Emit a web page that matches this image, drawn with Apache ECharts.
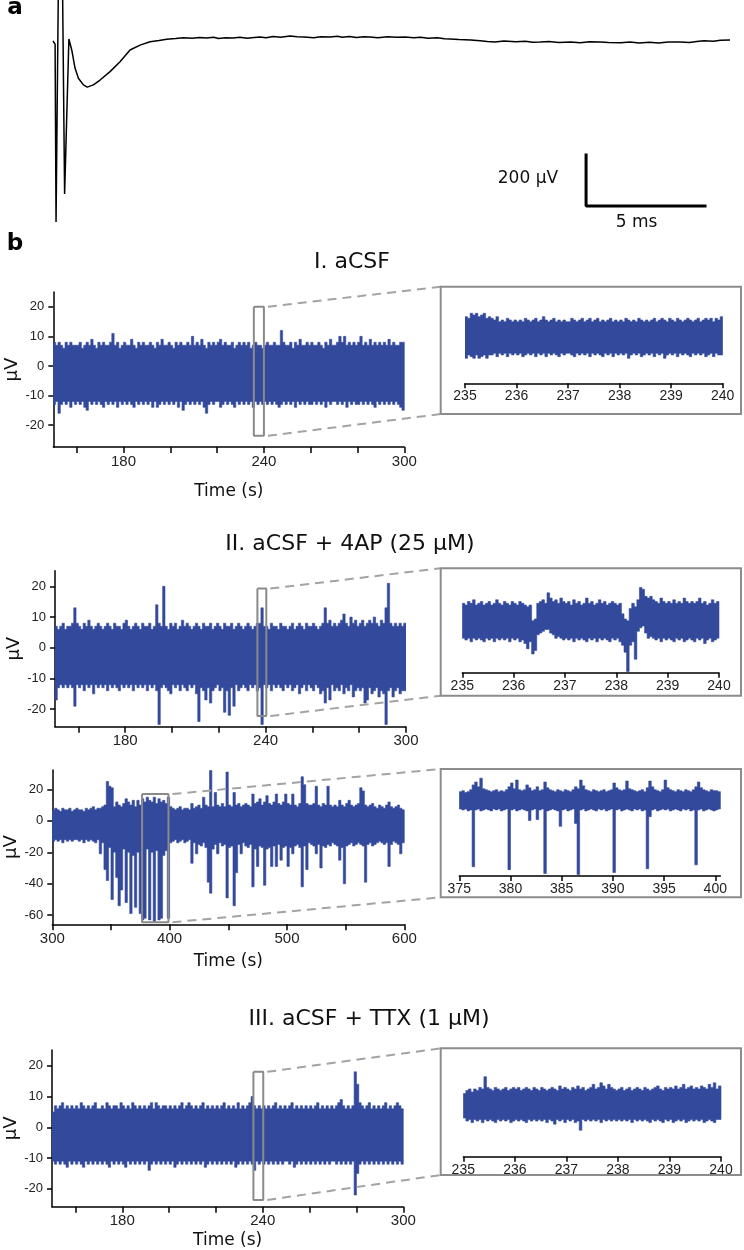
<!DOCTYPE html>
<html><head><meta charset="utf-8">
<script src="https://cdn.jsdelivr.net/npm/echarts@6/dist/echarts.min.js"></script>
<style>html,body{margin:0;padding:0;background:#fff}#c{width:744px;height:1250px}</style>
</head><body><div id="c"></div>
<script>
// ---------------- DATA ----------------
// Panel a: single averaged waveform (time ms, amplitude µV)
const aT = [0.04,0.13,0.17,0.27,0.44,0.53,0.71,0.83,0.97,1.11,1.32,1.48,1.74,2.02,2.44,2.86,3.28,3.70,4.12,4.50,4.82,5.20,5.52,5.90,6.20,6.50,6.80,7.00,7.30,7.61,7.90,8.20,8.50,8.74,9.00,9.30,9.60,10.01,10.30,10.60,11.00,11.30,11.69,12.00,12.20,12.50,12.80,13.10,13.37,13.70,14.10,14.50,14.84,15.20,15.50,15.80,16.20,16.50,16.73,17.10,17.60,18.00,18.30,18.62,19.00,19.50,19.90,20.20,20.52,20.90,21.30,21.80,22.20,22.60,23.04,23.40,23.90,24.30,24.68,25.10,25.50,25.90,26.40,26.80,27.10,27.40,27.80,28.10,28.50];
const aV = [-4,-16,-714,235,235,-604,4,-39,-111,-150,-176,-185,-176,-157,-124,-85,-39,-20,-7,-2,3,6,9,7,10,8,11,6,9,8,11,7,10,12,9,14,11,16,13,12,9,13,12,15,11,14,10,13,12,9,13,11,12,9,11,7,9,5,4,2,0,-3,-6,-8,-4,-7,-5,-9,-8,-6,-10,-8,-11,-7,-8,-10,-11,-8,-12,-9,-12,-8,-8,-10,-6,-3,-5,-1,0];
const scaleBarOrigin = [22.45, -451];   // ms, µV
const scaleBarV = 200;                  // µV
const scaleBarT = 5;                    // ms

// Panel titles
const titles = ['I. aCSF', 'II. aCSF + 4AP (25 µM)', 'III. aCSF + TTX (1 µM)'];

// Tick values
const mainTicks = [160,180,200,220,240,260,280,300];
const mainLabels = [180,240,300];
const longTicks = [300,350,400,450,500,550,600];
const longLabels = [300,400,500,600];
const yTicks = [-20,-10,0,10,20];
const yTicksLong = [-60,-40,-20,0,20];
const insetTicks = [235,236,237,238,239,240];
const insetTicksLong = [375,380,385,390,395,400];

// I. aCSF, 150–300 s, 1 s bins: upper / lower envelope (µV)
const I_t0 = 150, I_dt = 1;
const I_hi = [8,7,8,7,6,8,7,8,7,7, 7,8,6,7,8,7,9,7,6,8, 7,8,7,7,8,11,7,8,6,7, 8,7,7,9,7,6,8,7,8,7, 7,8,7,6,8,7,9,7,7,8,
  7,6,8,7,8,7,7,8,7,10, 7,8,7,9,7,6,8,7,8,7, 8,9,7,8,7,7,8,6,7,8, 7,8,7,8,6,7,8,7,7,6, 7,8,7,7,8,7,7,12,8,7,
  7,8,6,8,7,9,7,7,8,7, 8,7,7,8,7,6,8,7,9,7, 7,8,10,8,10,7,8,7,8,7, 8,10,7,8,7,9,7,8,7,8, 7,8,7,9,7,8,7,7,8,8];
const I_lo = [-13,-12,-16,-13,-12,-13,-12,-14,-12,-13, -12,-13,-12,-14,-15,-12,-13,-12,-13,-12, -13,-14,-12,-13,-12,-13,-12,-14,-12,-13,
  -12,-13,-12,-13,-14,-12,-13,-12,-13,-12, -13,-12,-14,-12,-14,-13,-12,-13,-12,-13, -12,-13,-12,-14,-12,-15,-13,-12,-13,-12,
  -13,-12,-13,-12,-14,-16,-13,-12,-13,-12, -12,-14,-13,-12,-13,-12,-13,-14,-12,-13, -12,-13,-12,-13,-12,-14,-12,-13,-12,-13,
  -12,-13,-12,-13,-12,-13,-14,-13,-12,-13, -12,-13,-12,-14,-12,-13,-12,-13,-12,-13, -13,-12,-13,-12,-13,-12,-14,-12,-13,-12,
  -12,-13,-12,-13,-12,-14,-12,-13,-12,-13, -13,-12,-13,-12,-13,-12,-13,-14,-12,-13, -12,-13,-12,-13,-12,-13,-12,-13,-14,-15];
// I inset, 235–240 s, 0.05 s bins
const Iz_t0 = 235, Iz_dt = 0.05;
const Iz_hi = [10,9,12,11,12,10,11,12,9,10, 9,8,10,7,8,7,9,8,7,8, 7,8,7,9,8,7,8,9,7,8, 10,8,7,8,9,7,8,7,8,7, 7,9,8,7,8,9,7,8,9,7,
  8,9,7,8,7,8,9,7,8,7, 8,7,9,8,7,8,7,9,8,7, 8,7,8,9,7,8,9,8,7,9, 8,7,9,8,7,8,9,8,7,8, 9,7,8,9,8,9,7,9,8,10];
const Iz_lo = [-15,-13,-14,-15,-13,-15,-14,-13,-15,-13, -13,-12,-14,-12,-13,-12,-14,-12,-13,-12, -13,-12,-14,-13,-12,-13,-12,-14,-12,-13,
  -12,-14,-12,-13,-12,-13,-14,-12,-13,-12, -12,-13,-14,-12,-13,-12,-13,-12,-14,-12, -13,-12,-13,-14,-12,-13,-12,-14,-12,-13,
  -12,-13,-12,-15,-13,-12,-13,-12,-14,-13, -12,-13,-12,-14,-12,-13,-12,-15,-13,-12, -13,-12,-14,-12,-13,-12,-13,-14,-12,-13,
  -12,-13,-12,-14,-13,-12,-14,-12,-13,-13];

// II. aCSF + 4AP, 150–300 s, 1 s bins
const IIa_t0 = 150, IIa_dt = 1;
const IIa_hi = [7,6,7,8,6,7,7,8,13,8, 7,6,8,7,9,7,6,7,8,7, 6,7,8,7,6,8,7,7,6,8, 9,7,6,7,8,7,6,8,7,7, 8,6,7,14,8,7,20,7,6,8,
  7,8,6,7,9,7,8,7,6,7, 8,7,6,8,7,7,8,6,7,8, 7,6,8,7,7,8,6,7,8,7, 6,7,8,7,6,7,8,8,13,7, 7,6,8,7,7,6,8,7,7,6,
  7,8,6,7,8,7,6,8,7,7, 8,7,6,7,8,13,8,9,7,8, 7,8,9,11,8,7,10,8,9,7, 8,9,7,8,9,8,10,8,7,9, 8,13,21,8,7,8,7,8,7,8];
const IIa_lo = [-17,-13,-12,-13,-12,-13,-12,-13,-19,-12, -13,-12,-14,-12,-13,-12,-15,-12,-13,-12, -13,-12,-14,-12,-13,-12,-13,-14,-12,-13,
  -12,-13,-12,-14,-12,-13,-12,-13,-12,-14, -12,-13,-12,-14,-25,-13,-12,-13,-14,-15, -12,-13,-12,-14,-12,-13,-14,-12,-13,-12,
  -15,-24,-13,-14,-17,-13,-18,-14,-13,-12, -14,-13,-21,-14,-22,-13,-19,-12,-14,-13, -12,-13,-14,-12,-13,-12,-14,-13,-25,-12,
  -13,-12,-14,-12,-13,-12,-13,-14,-12,-13, -12,-14,-13,-12,-15,-13,-12,-14,-12,-13, -14,-12,-13,-15,-14,-18,-13,-17,-12,-14,
  -13,-14,-12,-15,-13,-14,-12,-16,-14,-13, -14,-13,-18,-17,-13,-15,-14,-13,-16,-14, -15,-25,-14,-13,-16,-14,-13,-15,-14,-14];
// II inset (first), 235–240 s, 0.05 s bins
const IIaz_t0 = 235, IIaz_dt = 0.05;
const IIaz_hi = [8,7,9,8,10,7,8,9,7,8, 9,7,8,10,8,7,9,8,7,9, 8,7,9,8,7,6,7,-2,-1,8, 9,10,8,14,11,9,10,8,11,9, 8,9,7,10,8,9,7,8,11,8,
  9,7,8,10,8,9,7,8,9,8, 7,8,2,-1,-2,5,8,6,10,17, 16,12,11,12,10,9,8,11,9,8, 9,8,10,8,9,8,11,9,8,9, 8,9,11,8,9,7,8,10,8,9];
const IIaz_lo = [-12,-13,-12,-14,-12,-13,-12,-13,-14,-12, -13,-12,-14,-12,-13,-12,-13,-12,-14,-12, -13,-12,-14,-13,-15,-18,-14,-21,-19,-10,
  -9,-8,-7,-7,-9,-10,-12,-11,-12,-13, -12,-13,-12,-14,-12,-13,-12,-13,-14,-12, -13,-12,-14,-12,-13,-12,-13,-14,-12,-13,
  -12,-14,-16,-20,-31,-16,-14,-24,-8,-6, -5,-9,-12,-11,-12,-13,-12,-14,-12,-13, -12,-13,-14,-12,-13,-12,-14,-13,-12,-13,
  -14,-12,-13,-12,-15,-13,-12,-14,-13,-12];

// II. aCSF + 4AP, 300–600 s, 2 s bins
const IIb_t0 = 300, IIb_dt = 2;
const IIb_hi = [7,8,7,6,8,7,7,8,6,7, 8,7,7,6,8,7,8,9,7,8, 8,9,10,25,22,21,9,12,10,9, 11,14,12,10,13,9,13,10,14,12,
  15,13,12,15,11,14,12,13,11,15, 9,8,7,8,9,7,8,8,7,11, 8,9,10,8,15,10,9,32,9,18, 10,9,11,9,31,10,9,18,10,11,
  9,10,11,10,9,17,11,12,14,10, 12,16,11,10,12,17,11,10,12,17, 11,10,17,10,9,11,28,23,11,10, 10,11,22,10,9,11,10,22,10,9,
  10,9,13,10,9,11,13,10,9,10, 11,21,19,10,9,10,11,9,8,10, 9,8,10,12,9,8,9,10,8,7];
const IIb_lo = [-13,-12,-13,-12,-14,-12,-13,-12,-13,-12, -12,-13,-12,-14,-12,-13,-12,-13,-14,-12,
  -21,-14,-31,-38,-17,-50,-20,-36,-54,-44, -18,-52,-20,-59,-22,-55,-20,-59,-63,-62, -18,-63,-20,-64,-19,-63,-62,-22,-19,-62,
  -14,-13,-12,-14,-13,-12,-14,-13,-12,-27, -14,-21,-15,-16,-14,-17,-39,-46,-18,-15, -21,-14,-16,-15,-49,-17,-16,-54,-33,-15,
  -21,-14,-16,-17,-15,-42,-18,-29,-16,-17, -41,-18,-17,-29,-16,-29,-15,-25,-17,-16, -29,-17,-21,-16,-15,-17,-42,-16,-31,-14,
  -15,-16,-21,-15,-30,-16,-17,-15,-16,-14, -15,-16,-25,-17,-40,-16,-15,-14,-16,-15, -14,-15,-16,-39,-15,-14,-16,-15,-14,-13,
  -14,-15,-14,-29,-15,-13,-14,-15,-21,-14];
// II inset (second), 375–400.5 s, 0.25 s bins
const IIbz_t0 = 375, IIbz_dt = 0.25;
const IIbz_hi = [7,8,6,7,9,14,17,12,21,10, 9,8,7,8,9,7,8,7,9,12, 16,10,19,9,8,9,14,11,8,9, 12,8,9,17,11,9,8,7,9,8,
  7,9,8,7,9,12,10,19,13,9, 8,7,9,8,7,8,9,7,8,9, 16,11,9,8,9,18,10,9,8,7, 8,9,7,11,18,12,9,8,7,9,
  19,11,9,8,7,9,8,7,9,8, 7,9,12,17,11,9,8,7,9,8, 8,7];
const IIbz_lo = [-11,-12,-11,-13,-12,-71,-12,-11,-13,-12, -11,-12,-13,-11,-12,-11,-13,-12,-11,-74, -12,-11,-13,-12,-11,-12,-13,-23,-12,-11,
  -22,-12,-11,-78,-13,-12,-11,-12,-13,-29, -12,-11,-13,-12,-11,-26,-79,-12,-11,-13, -12,-11,-12,-13,-11,-12,-11,-13,-12,-11,
  -77,-12,-11,-13,-12,-11,-12,-13,-11,-12, -11,-13,-12,-73,-19,-12,-11,-13,-12,-11, -12,-11,-13,-12,-11,-12,-13,-11,-12,-11,
  -13,-12,-69,-12,-11,-13,-12,-11,-12,-13, -12,-11];

// III. aCSF + TTX, 150–300 s, 1 s bins
const III_t0 = 150, III_dt = 1;
const III_hi = [5,7,6,7,8,6,7,6,7,6, 7,6,8,7,6,7,6,7,8,6, 6,7,6,8,7,6,7,7,6,8, 7,6,7,6,8,7,6,7,6,7, 6,7,8,6,8,7,6,7,7,6,
  7,6,7,6,7,8,6,7,8,7, 6,7,6,7,8,6,7,6,7,6, 7,6,7,8,6,7,6,7,6,8, 6,7,6,7,8,10,7,6,7,6, 7,6,7,6,7,8,6,7,6,7,
  6,7,8,6,7,6,7,6,7,6, 7,6,7,8,6,7,6,7,6,7, 6,7,8,9,7,6,7,6,7,18, 14,8,7,6,7,8,6,7,6,7, 6,7,8,6,7,6,7,8,7,6];
const III_lo = [-11,-12,-11,-12,-11,-12,-13,-11,-12,-11, -12,-11,-12,-13,-11,-12,-11,-12,-11,-12, -11,-12,-11,-12,-13,-11,-12,-11,-12,-11,
  -12,-13,-11,-12,-11,-12,-11,-12,-11,-12, -11,-14,-12,-11,-12,-11,-12,-11,-12,-11, -12,-11,-13,-12,-11,-12,-11,-12,-11,-12,
  -11,-12,-11,-12,-11,-13,-12,-11,-12,-11, -12,-11,-12,-11,-12,-11,-12,-11,-13,-12, -11,-12,-11,-12,-11,-12,-14,-11,-12,-11,
  -12,-11,-12,-11,-12,-11,-12,-11,-12,-11, -11,-12,-11,-13,-12,-11,-12,-11,-12,-11, -12,-11,-12,-11,-12,-11,-12,-11,-12,-11,
  -11,-12,-11,-12,-11,-12,-11,-12,-11,-22, -15,-12,-11,-12,-11,-12,-11,-12,-11,-12, -11,-12,-11,-12,-11,-12,-11,-12,-11,-12];
// III inset, 235–240 s, 0.05 s bins
const IIIz_t0 = 235, IIIz_dt = 0.05;
const IIIz_hi = [5,7,8,6,8,7,9,8,16,9, 8,7,9,8,7,8,9,7,8,9, 8,9,7,8,9,8,7,9,8,7, 9,8,7,8,9,8,7,10,8,9, 8,7,9,8,10,8,9,7,8,9,
  11,8,9,12,10,8,11,9,8,7, 8,9,7,8,9,7,8,9,8,7, 9,8,7,8,9,10,8,7,9,8, 9,8,10,8,9,11,8,9,10,8, 9,8,10,9,8,11,9,12,8,10];
const IIIz_lo = [-11,-13,-12,-14,-12,-13,-12,-14,-12,-13, -12,-13,-14,-12,-13,-12,-13,-12,-14,-13, -12,-13,-12,-13,-14,-12,-13,-12,-13,-12,
  -13,-12,-14,-12,-13,-15,-12,-13,-12,-14, -12,-13,-12,-14,-13,-19,-12,-13,-12,-13, -12,-13,-12,-14,-12,-13,-12,-13,-12,-13,
  -12,-13,-12,-13,-12,-14,-12,-13,-12,-13, -12,-13,-14,-12,-13,-12,-13,-14,-12,-13, -12,-14,-13,-12,-13,-12,-14,-13,-12,-13,
  -12,-13,-12,-14,-13,-12,-13,-14,-12,-12];

// Zoom windows marked on the main traces: [tStart, tEnd, vBottom, vTop]
const boxI = [235.7, 240.0, -23.6, 20];
const boxIIa = [236.5, 240.3, -22.2, 19.3];
const boxIIb = [376.5, 399.0, -64.5, 17];
const boxIII = [236.0, 240.2, -23.6, 18];

// ---------------- CHART ----------------
const BLUE = '#33499c';
const LBL = 'Liberation Sans';
const TXT = 'DejaVu Sans';
const chart = echarts.init(document.getElementById('c'), null, {renderer: 'canvas'});

const grids = [
  {left: 52, top: 0, width: 678, height: 222},        // 0 a
  {left: 53.3, top: 292, width: 351, height: 155},     // 1 I
  {left: 465, top: 300, width: 257.7, height: 83.3},   // 2 I inset
  {left: 55, top: 570.7, width: 351, height: 156},     // 3 IIa
  {left: 462.3, top: 575, width: 256.7, height: 97.7}, // 4 IIa inset
  {left: 52.3, top: 770, width: 352, height: 154.3},   // 5 IIb
  {left: 459.3, top: 769, width: 261.1, height: 107},  // 6 IIb inset
  {left: 52, top: 1050, width: 351.3, height: 156.7},  // 7 III
  {left: 463.3, top: 1055, width: 257.7, height: 101.7}// 8 III inset
];
const insetBorders = [
  [440.7, 286.7, 741, 414],
  [440.7, 568.3, 741, 695.7],
  [440.7, 769, 741, 897.3],
  [440.7, 1048.3, 741, 1175]
];

const axLine = {show: true, onZero: false, lineStyle: {color: '#000', width: 1.5}};
function mainX(g, min, max, ticks, labels, name, gap) {
  return {gridIndex: g, type: 'value', min, max,
    axisLine: axLine,
    axisTick: {show: true, customValues: ticks, length: 6, inside: false, lineStyle: {color: '#000', width: 1.5}},
    axisLabel: {show: true, customValues: labels, margin: 7, fontSize: 15, color: '#222', fontFamily: LBL},
    splitLine: {show: false},
    name: name || '', nameLocation: 'middle', nameGap: gap || 0,
    nameTextStyle: {fontSize: 17, fontFamily: TXT, color: '#111'}};
}
function mainY(g, min, max, ticks) {
  return {gridIndex: g, type: 'value', min, max,
    axisLine: axLine,
    axisTick: {show: true, customValues: ticks, length: 5, lineStyle: {color: '#000', width: 1.5}},
    axisLabel: {show: true, customValues: ticks, margin: 9, fontSize: 13, color: '#222', fontFamily: LBL},
    splitLine: {show: false},
    name: 'µV', nameLocation: 'middle', nameRotate: 90, nameGap: 23,
    nameTextStyle: {fontSize: 18, fontFamily: TXT, color: '#111'}};
}
function insetX(g, min, max, ticks) {
  return {gridIndex: g, type: 'value', min, max,
    axisLine: axLine,
    axisTick: {show: true, customValues: ticks, length: 5, lineStyle: {color: '#000', width: 1.5}},
    axisLabel: {show: true, customValues: ticks, margin: 6, fontSize: 14, color: '#222', fontFamily: LBL},
    splitLine: {show: false}};
}
function hiddenAxis(g, min, max) {
  return {gridIndex: g, type: 'value', min, max, show: false, splitLine: {show: false}};
}

const xAxes = [
  hiddenAxis(0, 0, 28.5),
  mainX(1, 150, 300, mainTicks, mainLabels, 'Time (s)', 36),
  insetX(2, 235, 240, insetTicks),
  mainX(3, 150, 300, mainTicks, mainLabels),
  insetX(4, 235, 240, insetTicks),
  mainX(5, 300, 600, longTicks, longLabels, 'Time (s)', 29),
  insetX(6, 375, 400.5, insetTicksLong),
  mainX(7, 150, 300, mainTicks, mainLabels, 'Time (s)', 25),
  insetX(8, 235, 240, insetTicks)
];
const yAxes = [
  hiddenAxis(0, -714, 157),
  mainY(1, -27.4, 25, yTicks),
  hiddenAxis(2, -30, 20),
  mainY(3, -25.7, 25.1, yTicks),
  hiddenAxis(4, -31.7, 24.2),
  mainY(5, -65.8, 32.3, yTicksLong),
  hiddenAxis(6, -80.6, 30.5),
  mainY(7, -25.8, 25.1, yTicks),
  hiddenAxis(8, -36.3, 30.2)
];

// Each band: one step-outline polygon through the binned upper and lower envelopes
function band(g, t0, dt, lo, hi) {
  return {type: 'custom', xAxisIndex: g, yAxisIndex: g, silent: true, clip: true, z: 2,
    data: hi.map((h, i) => [t0 + i * dt, lo[i], h]),
    encode: {x: 0, y: [1, 2]},
    renderItem: (params, api) => {
      if (params.dataIndex !== 0) return;
      const pts = [];
      for (let i = 0; i < hi.length; i++) {
        const t = t0 + i * dt;
        pts.push(api.coord([t, hi[i]]), api.coord([t + dt, hi[i]]));
      }
      for (let i = lo.length - 1; i >= 0; i--) {
        const t = t0 + i * dt;
        pts.push(api.coord([t + dt, lo[i]]), api.coord([t, lo[i]]));
      }
      return {type: 'polygon', shape: {points: pts}, style: {fill: BLUE, stroke: BLUE, lineWidth: 0.6}};
    }};
}
function boxSeries(g, b) {
  return {type: 'line', xAxisIndex: g, yAxisIndex: g, silent: true, clip: false, z: 5,
    symbol: 'none', lineStyle: {color: '#8a8a8a', width: 2},
    data: [[b[0], b[3]], [b[1], b[3]], [b[1], b[2]], [b[0], b[2]], [b[0], b[3]]]};
}

const series = [
  {type: 'line', xAxisIndex: 0, yAxisIndex: 0, symbol: 'none', clip: true, silent: true,
    lineStyle: {color: '#000', width: 1.5}, data: aT.map((t, i) => [t, aV[i]])},
  {type: 'line', xAxisIndex: 0, yAxisIndex: 0, symbol: 'none', clip: false, silent: true,
    lineStyle: {color: '#000', width: 3, cap: 'square'},
    data: [[scaleBarOrigin[0], scaleBarOrigin[1]], [scaleBarOrigin[0], scaleBarOrigin[1] - scaleBarV],
           [scaleBarOrigin[0] + scaleBarT, scaleBarOrigin[1] - scaleBarV]]},
  band(1, I_t0, I_dt, I_lo, I_hi),
  band(2, Iz_t0, Iz_dt, Iz_lo, Iz_hi),
  band(3, IIa_t0, IIa_dt, IIa_lo, IIa_hi),
  band(4, IIaz_t0, IIaz_dt, IIaz_lo, IIaz_hi),
  band(5, IIb_t0, IIb_dt, IIb_lo, IIb_hi),
  band(6, IIbz_t0, IIbz_dt, IIbz_lo, IIbz_hi),
  band(7, III_t0, III_dt, III_lo, III_hi),
  band(8, IIIz_t0, IIIz_dt, IIIz_lo, IIIz_hi),
  boxSeries(1, boxI), boxSeries(3, boxIIa), boxSeries(5, boxIIb), boxSeries(7, boxIII)
];

chart.setOption({animation: false, backgroundColor: '#fff', grid: grids, xAxis: xAxes, yAxis: yAxes, series});

// ---------------- ANNOTATIONS ----------------
const px = (g, p) => chart.convertToPixel({xAxisIndex: g, yAxisIndex: g}, p);
const graphic = [];
function txt(text, x, y, size, opts) {
  graphic.push(Object.assign({type: 'text', x, y, silent: true, z: 10,
    style: Object.assign({text, fill: '#111', fontSize: size, fontFamily: TXT, align: 'center', verticalAlign: 'middle'}, opts || {})}));
}
txt('a', 15, 8, 23, {fontWeight: 'bold', fill: '#000'});
txt('b', 15, 244, 23, {fontWeight: 'bold', fill: '#000'});
txt(titles[0], 352, 262, 22);
txt(titles[1], 350, 544, 22);
txt(titles[2], 369, 1019, 22);

const sb0 = px(0, [scaleBarOrigin[0], scaleBarOrigin[1]]);
const sb1 = px(0, [scaleBarOrigin[0] + scaleBarT, scaleBarOrigin[1] - scaleBarV]);
txt('200 µV', sb0[0] - 28, (sb0[1] + sb1[1]) / 2 - 2, 17, {align: 'right'});
txt('5 ms', (sb0[0] + sb1[0]) / 2 - 9, sb1[1] + 17, 17);

insetBorders.forEach(b => graphic.push({type: 'rect', silent: true, z: 6,
  shape: {x: b[0], y: b[1], width: b[2] - b[0], height: b[3] - b[1]},
  style: {fill: 'none', stroke: '#8c8c8c', lineWidth: 2}}));

[[1, boxI, 0], [3, boxIIa, 1], [5, boxIIb, 2], [7, boxIII, 3]].forEach(([g, b, k]) => {
  const top = px(g, [b[1], b[3]]);
  const bot = px(g, [b[1], b[2]]);
  const br = insetBorders[k];
  [[top, br[1]], [bot, br[3]]].forEach(([p, y2]) => graphic.push({type: 'line', silent: true, z: 4,
    shape: {x1: p[0] + 4, y1: p[1], x2: br[0], y2},
    style: {stroke: '#a3a3a3', lineWidth: 2, lineDash: [9, 6]}}));
});

chart.setOption({graphic});
</script></body></html>
